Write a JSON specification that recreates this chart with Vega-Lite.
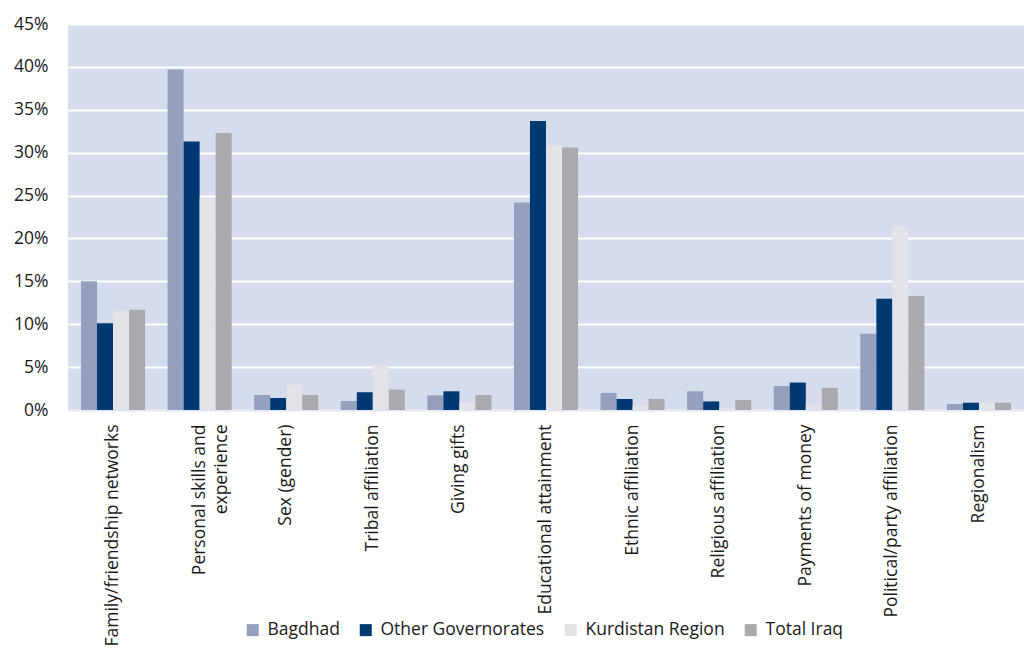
{
  "$schema": "https://vega.github.io/schema/vega-lite/v6.json",
  "autosize": "none",
  "padding": {"left": 68, "top": 24, "right": 0, "bottom": 250},
  "width": 956,
  "height": 386,
  "background": "white",
  "config": {
    "view": {"fill": "#D5DCEE", "stroke": null},
    "font": "Open Sans"
  },
  "data": {
    "values": [
      {"category": "Family/friendship networks", "region": "Bagdhad", "value": 0.150},
      {"category": "Family/friendship networks", "region": "Other Governorates", "value": 0.101},
      {"category": "Family/friendship networks", "region": "Kurdistan Region", "value": 0.116},
      {"category": "Family/friendship networks", "region": "Total Iraq", "value": 0.117},
      {"category": "Personal skills and experience", "region": "Bagdhad", "value": 0.397},
      {"category": "Personal skills and experience", "region": "Other Governorates", "value": 0.313},
      {"category": "Personal skills and experience", "region": "Kurdistan Region", "value": 0.247},
      {"category": "Personal skills and experience", "region": "Total Iraq", "value": 0.323},
      {"category": "Sex (gender)", "region": "Bagdhad", "value": 0.0175},
      {"category": "Sex (gender)", "region": "Other Governorates", "value": 0.014},
      {"category": "Sex (gender)", "region": "Kurdistan Region", "value": 0.029},
      {"category": "Sex (gender)", "region": "Total Iraq", "value": 0.0175},
      {"category": "Tribal affiliation", "region": "Bagdhad", "value": 0.0105},
      {"category": "Tribal affiliation", "region": "Other Governorates", "value": 0.0207},
      {"category": "Tribal affiliation", "region": "Kurdistan Region", "value": 0.0526},
      {"category": "Tribal affiliation", "region": "Total Iraq", "value": 0.0237},
      {"category": "Giving gifts", "region": "Bagdhad", "value": 0.0171},
      {"category": "Giving gifts", "region": "Other Governorates", "value": 0.0218},
      {"category": "Giving gifts", "region": "Kurdistan Region", "value": 0.0086},
      {"category": "Giving gifts", "region": "Total Iraq", "value": 0.0175},
      {"category": "Educational attainment", "region": "Bagdhad", "value": 0.242},
      {"category": "Educational attainment", "region": "Other Governorates", "value": 0.337},
      {"category": "Educational attainment", "region": "Kurdistan Region", "value": 0.3085},
      {"category": "Educational attainment", "region": "Total Iraq", "value": 0.306},
      {"category": "Ethnic affiliation", "region": "Bagdhad", "value": 0.0199},
      {"category": "Ethnic affiliation", "region": "Other Governorates", "value": 0.0129},
      {"category": "Ethnic affiliation", "region": "Kurdistan Region", "value": 0.005},
      {"category": "Ethnic affiliation", "region": "Total Iraq", "value": 0.0129},
      {"category": "Religious affiliation", "region": "Bagdhad", "value": 0.0218},
      {"category": "Religious affiliation", "region": "Other Governorates", "value": 0.010},
      {"category": "Religious affiliation", "region": "Kurdistan Region", "value": 0.0027},
      {"category": "Religious affiliation", "region": "Total Iraq", "value": 0.0117},
      {"category": "Payments of money", "region": "Bagdhad", "value": 0.028},
      {"category": "Payments of money", "region": "Other Governorates", "value": 0.032},
      {"category": "Payments of money", "region": "Kurdistan Region", "value": 0.0062},
      {"category": "Payments of money", "region": "Total Iraq", "value": 0.026},
      {"category": "Political/party affiliation", "region": "Bagdhad", "value": 0.089},
      {"category": "Political/party affiliation", "region": "Other Governorates", "value": 0.1297},
      {"category": "Political/party affiliation", "region": "Kurdistan Region", "value": 0.214},
      {"category": "Political/party affiliation", "region": "Total Iraq", "value": 0.133},
      {"category": "Regionalism", "region": "Bagdhad", "value": 0.007},
      {"category": "Regionalism", "region": "Other Governorates", "value": 0.0085},
      {"category": "Regionalism", "region": "Kurdistan Region", "value": 0.0085},
      {"category": "Regionalism", "region": "Total Iraq", "value": 0.0085}
    ]
  },
  "mark": {"type": "bar"},
  "encoding": {
    "x": {
      "field": "category",
      "type": "nominal",
      "sort": null,
      "scale": {"paddingInner": 0.26, "paddingOuter": 0.15},
      "axis": {
        "title": null,
        "labelAngle": 270,
        "labelAlign": "right",
        "labelBaseline": "middle",
        "labelFontSize": 17.5,
        "labelColor": "#1a1a1a",
        "labelPadding": 14,
        "labelLimit": 300,
        "labelLineHeight": 22,
        "labelExpr": "datum.label == 'Personal skills and experience' ? ['Personal skills and', 'experience'] : datum.label",
        "ticks": false,
        "domain": true,
        "domainColor": "#E2E6F2",
        "domainWidth": 2
      }
    },
    "xOffset": {
      "field": "region",
      "type": "nominal",
      "sort": ["Bagdhad", "Other Governorates", "Kurdistan Region", "Total Iraq"]
    },
    "y": {
      "field": "value",
      "type": "quantitative",
      "scale": {"domain": [0, 0.45], "nice": false},
      "axis": {
        "title": null,
        "format": ".0%",
        "values": [0, 0.05, 0.1, 0.15, 0.2, 0.25, 0.3, 0.35, 0.4, 0.45],
        "labelFontSize": 17.5,
        "labelColor": "#1a1a1a",
        "labelPadding": 20,
        "ticks": false,
        "domain": false,
        "grid": true,
        "gridColor": "white",
        "gridWidth": 2
      }
    },
    "color": {
      "field": "region",
      "type": "nominal",
      "sort": ["Bagdhad", "Other Governorates", "Kurdistan Region", "Total Iraq"],
      "scale": {
        "domain": ["Bagdhad", "Other Governorates", "Kurdistan Region", "Total Iraq"],
        "range": ["#95A0BE", "#003871", "#E1E3E6", "#A9AAAE"]
      },
      "legend": {
        "title": null,
        "orient": "none",
        "direction": "horizontal",
        "legendX": 176,
        "legendY": 597,
        "symbolType": "square",
        "symbolSize": 144,
        "symbolStrokeWidth": 0,
        "labelFont": "Open Sans",
        "labelFontSize": 17.5,
        "labelLimit": 400,
        "labelColor": "#1a1a1a",
        "labelOffset": 6,
        "columnPadding": 17
      }
    }
  }
}
